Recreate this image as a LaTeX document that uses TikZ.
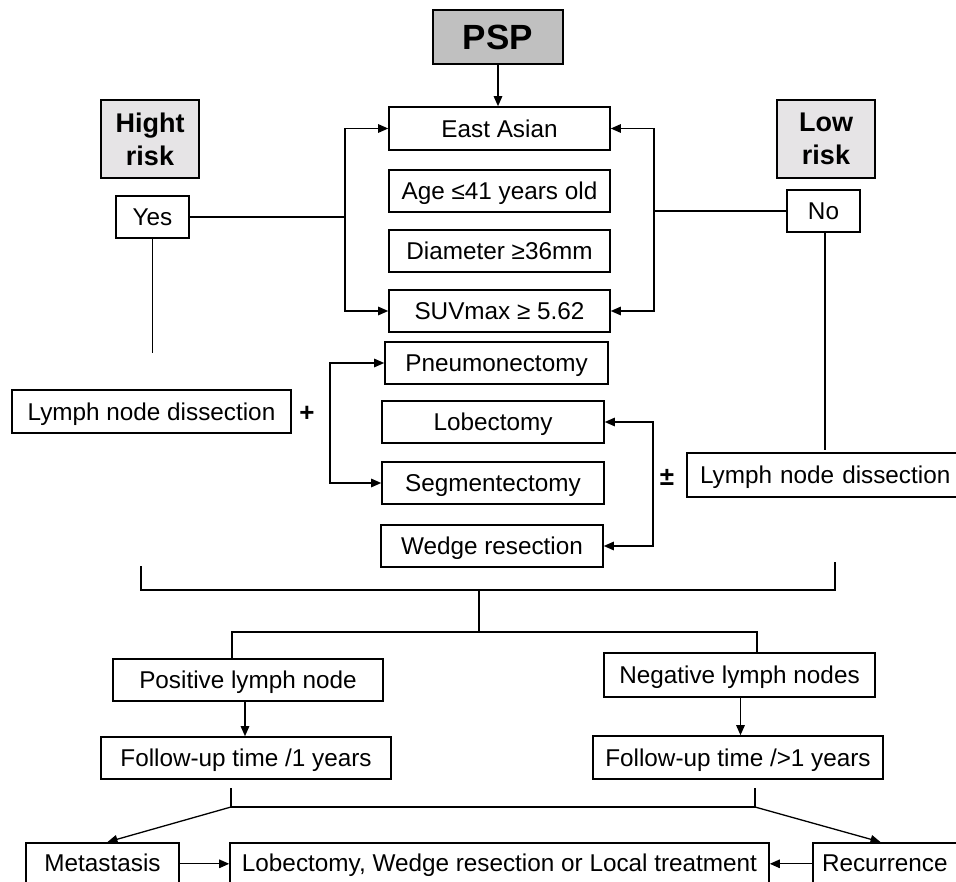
\documentclass[tikz,border=0pt]{standalone}
\usepackage{fontspec}
\setmainfont{Liberation Sans}
\usetikzlibrary{arrows.meta}
\definecolor{pspgray}{HTML}{C0C0C0}
\definecolor{riskgray}{HTML}{E6E4E6}
\begin{document}
\begin{tikzpicture}[x=1pt,y=-1pt,
  box/.style={draw,line width=1.6pt,inner sep=0pt,font=\fontsize{24.3}{28}\selectfont,text height=17.4pt,text depth=0pt},
  riskbox/.style={draw,line width=1.6pt,inner sep=0pt,align=center,fill=riskgray,font=\fontsize{27}{33}\selectfont\bfseries},
  ln/.style={line width=1.3pt},
  arr/.style={ln,-{Triangle[length=10pt,width=8.5pt]}}]
\useasboundingbox (0,0) rectangle (956,882);
% nodes
\node[box,fill=pspgray,font=\fontsize{35}{40}\selectfont\bfseries,text height=25pt,minimum width=130,minimum height=54] (psp) at (498,37) {PSP};
\node[box,minimum width=221,minimum height=43] (east) at (499.5,128.5) {East Asian};
\node[box,minimum width=221,minimum height=42] (age) at (499.5,191) {Age ≤41 years old};
\node[box,minimum width=221,minimum height=42] (diam) at (499.5,251) {Diameter ≥36mm};
\node[box,minimum width=221,minimum height=42] (suv) at (499.5,311) {SUVmax ≥ 5.62};
\node[riskbox,minimum width=98,minimum height=78] (high) at (150,139) {Hight\\risk};
\node[riskbox,minimum width=98,minimum height=78] (low) at (826,139) {Low\\risk};
\node[box,minimum width=73,minimum height=42] (yes) at (152.5,217) {Yes};
\node[box,minimum width=73,minimum height=42] (no) at (823.5,211) {No};
\node[box,minimum width=279,minimum height=43] (lndl) at (151.5,411.5) {Lymph node dissection};
\node[box,minimum width=223,minimum height=42] (pneu) at (496.5,363) {Pneumonectomy};
\node[box,minimum width=222,minimum height=42] (lobe) at (493,422) {Lobectomy};
\node[box,minimum width=222,minimum height=42] (seg) at (493,483) {Segmentectomy};
\node[box,minimum width=222,minimum height=42] (wedge) at (492,546) {Wedge resection};
\node[box,minimum width=275,minimum height=44,text width=269,align=left] (lndr) at (824.5,475) {\hspace*{10pt}Lymph node dissection};
\node[font=\fontsize{26}{30}\selectfont\bfseries] (plus) at (307,414) {+};
\node[font=\fontsize{26}{28}\selectfont\bfseries] (pm) at (667,477) {±};
\node[box,minimum width=270,minimum height=42] (pos) at (248,680) {Positive lymph node};
\node[box,minimum width=271,minimum height=44] (neg) at (739.5,675) {Negative lymph nodes};
\node[box,minimum width=290,minimum height=42] (fu1) at (246,758) {Follow-up time /1 years};
\node[box,minimum width=290,minimum height=43] (fu2) at (738,757.5) {Follow-up time />1 years};
\node[box,minimum width=153,minimum height=40,anchor=north] (meta) at (102.5,842) {Metastasis};
\node[box,minimum width=539,minimum height=40,anchor=north] (lob2) at (499.5,842) {Lobectomy, Wedge resection or Local treatment};
\node[box,minimum width=147,minimum height=40,anchor=north,text width=147,align=left] (rec) at (886.5,842) {\hspace*{9pt}Recurrence};
% coordinates
\coordinate (lbk) at (345,217);
\coordinate (rbk) at (654,211);
\coordinate (yesend) at (152.5,353);
\coordinate (noend) at (825,450);
\coordinate (mlb) at (330,424);
\coordinate (mrb) at (653,483);
\coordinate (bl1) at (141,566);
\coordinate (bl2) at (141,590);
\coordinate (br2) at (835,590);
\coordinate (br1) at (835,562);
\coordinate (bc) at (479,590);
\coordinate (bc2) at (479,632);
\coordinate (pl) at (232,632);
\coordinate (nr) at (757,632);
\coordinate (f1a) at (231,788);
\coordinate (f1b) at (231,807);
\coordinate (f2a) at (755,788);
\coordinate (f2b) at (755,807);
% connectors
\draw[arr] (psp.south) -- (psp.south |- east.north);
\draw[ln] (yes.east) -- (lbk);
\draw[arr] (lbk) |- (east.west);
\draw[arr] (lbk) |- (suv.west);
\draw[ln] (no.west) -- (rbk);
\draw[arr] (rbk) |- (east.east);
\draw[arr] (rbk) |- (suv.east);
\draw[ln] (yes.south) -- (yesend);
\draw[ln] (no.south -| noend) -- (noend);
\draw[arr] (mlb) |- (pneu.west);
\draw[arr] (mlb) |- (seg.west);
\draw[arr] (mrb) |- (lobe.east);
\draw[arr] (mrb) |- (wedge.east);
\draw[ln] (bl1) -- (bl2) -- (br2) -- (br1);
\draw[ln] (bc) -- (bc2);
\draw[ln] (pl |- pos.north) -- (pl) -- (nr) -- (nr |- neg.north);
\draw[arr] ([xshift=-3pt]pos.south) -- ([xshift=-3pt]pos.south |- fu1.north);
\draw[arr] ([xshift=1pt]neg.south) -- ([xshift=1pt]neg.south |- fu2.north);
\draw[ln] (f1a) -- (f1b) -- (f2b) -- (f2a);
\draw[arr] (f1b) -- ([xshift=5pt]meta.north);
\draw[arr] (f2b) -- ([xshift=-6pt]rec.north);
\draw[arr] ([yshift=-1pt]meta.east) -- ([yshift=-1pt]lob2.west);
\draw[arr] ([yshift=-1pt]rec.west) -- ([yshift=-1pt]lob2.east);
\end{tikzpicture}
\end{document}
